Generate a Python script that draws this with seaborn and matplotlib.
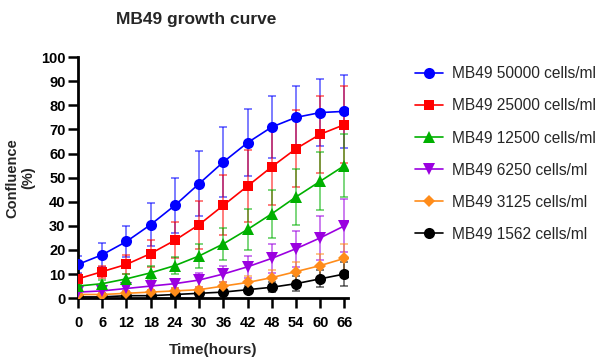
import matplotlib
matplotlib.use("Agg")
import matplotlib.pyplot as plt
import seaborn as sns
import pandas as pd
import numpy as np

hours = [0, 6, 12, 18, 24, 30, 36, 42, 48, 54, 60, 66]
labels = ["MB49 50000 cells/ml", "MB49 25000 cells/ml", "MB49 12500 cells/ml",
          "MB49 6250 cells/ml", "MB49 3125 cells/ml", "MB49 1562 cells/ml"]
colors = ["#0000ff", "#ff0000", "#00b000", "#9b00e0", "#ff8c1a", "#000000"]
markers = ["o", "s", "^", "v", "D", "o"]

c50000 = [14, 18, 23.5, 30.5, 38.5, 47.5, 56.5, 64.5, 71, 75, 77, 77.5]
c25000 = [8, 11, 14, 18.5, 24, 30.5, 38.5, 46.5, 54.5, 62, 68, 72]
c12500 = [5, 6, 8, 10.5, 13.5, 17.5, 22.5, 28.5, 35, 42, 48.5, 55]
c6250 = [2.5, 3, 4, 5, 6, 7.5, 10, 13, 16.5, 20.5, 25, 30]
c3125 = [1.5, 1.5, 2, 2.5, 3, 3.5, 5, 6.5, 8.5, 11, 13.5, 16.5]
c1562 = [0.5, 0.5, 1, 1, 1.5, 2, 2.5, 3.5, 4.5, 6, 8, 10]

e50000 = [3.5, 5, 6.5, 9, 11.5, 13.5, 14.5, 14, 13, 13, 14, 15]
e25000 = [2, 2.5, 4, 5.5, 7.5, 10, 12.5, 15, 16, 16, 16, 16]
e12500 = [1, 1.5, 2, 3, 3.5, 5, 6.5, 8.5, 10, 11.5, 12, 13]
e6250 = [1, 1, 1, 1.5, 2, 3, 3.5, 4.5, 6, 7.5, 9, 11]
e3125 = [0.5, 0.5, 0.5, 1, 1, 1, 1.5, 2.5, 3, 4, 5, 6]
e1562 = [0.5, 0.5, 0.5, 0.5, 0.5, 1, 1, 1.5, 2, 3, 3.5, 5]

means = [c50000, c25000, c12500, c6250, c3125, c1562]
errs = [e50000, e25000, e12500, e6250, e3125, e1562]

rows = []
for lab, m, e in zip(labels, means, errs):
    for h, v, s in zip(hours, m, e):
        rows.append({"hours": h, "conf": v, "err": s, "group": lab})
df = pd.DataFrame(rows)

sns.set_theme(style="ticks")
plt.rcParams["font.family"] = ["Liberation Sans", "DejaVu Sans"]

fig = plt.figure(figsize=(6.05, 3.64), dpi=100)
ax = fig.add_axes([0.129, 0.181, 0.447, 0.662])

for lab, col, mk in zip(labels, colors, markers):
    sub = df[df.group == lab]
    ax.errorbar(sub.hours, sub.conf, yerr=sub.err, fmt="none", ecolor=col,
                alpha=0.6, elinewidth=1.2, capsize=3, capthick=1.2, zorder=2)

ms = {"o": 8, "s": 7.5, "^": 8, "v": 8, "D": 6}
for i, (lab, col, mk) in enumerate(zip(labels, colors, markers)):
    sub = df[df.group == lab]
    sns.lineplot(data=sub, x="hours", y="conf", ax=ax, color=col, marker=mk,
                 markersize=ms[mk], markeredgewidth=0, linewidth=1.2,
                 label=lab, zorder=3 + (6 - i))

ax.set_xlim(0, 67)
ax.set_ylim(0, 100)
ax.set_xticks(hours)
ax.set_yticks(range(0, 101, 10))
for sp in ["top", "right"]:
    ax.spines[sp].set_visible(False)
for sp in ["left", "bottom"]:
    ax.spines[sp].set_linewidth(2)
    ax.spines[sp].set_color("black")
ax.tick_params(axis="both", length=7, width=1.8, colors="black", labelsize=10.5)
ax.tick_params(axis="x", pad=6)
ax.tick_params(axis="y", pad=2)
for t in ax.get_xticklabels() + ax.get_yticklabels():
    t.set_fontweight("bold")
ax.set_xlabel("Time(hours)", fontsize=11, fontweight="bold", labelpad=9)
ax.set_ylabel("Confluence\n(%)", fontsize=10.5, fontweight="bold", labelpad=4)
ax.set_title("MB49 growth curve", fontsize=12.5, fontweight="bold", pad=24, x=0.437)
ax.grid(False)

handles, labs = ax.get_legend_handles_labels()
ax.legend_.remove()
fig.legend(handles, labs, loc="upper left", bbox_to_anchor=(0.675, 0.835),
           frameon=False, fontsize=11.2, labelspacing=1.1, handlelength=1.8,
           handletextpad=0.6, borderaxespad=0)

fig.savefig("out.png", dpi=100)
